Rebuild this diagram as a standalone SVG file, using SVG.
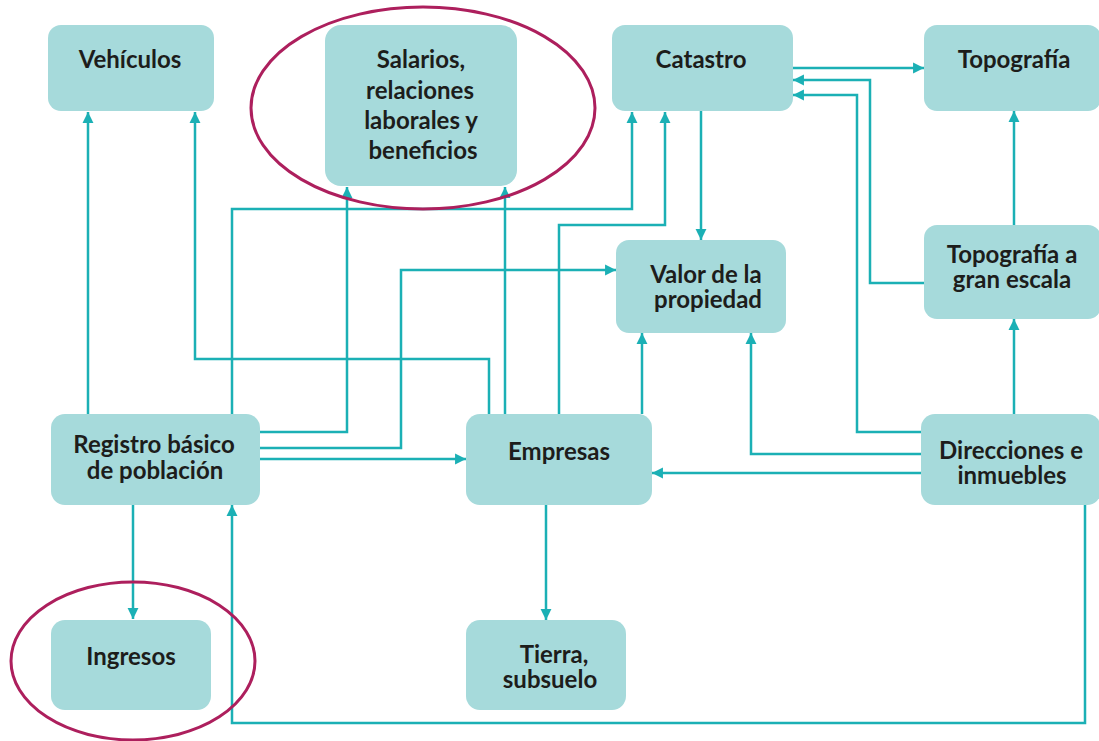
<svg xmlns="http://www.w3.org/2000/svg" width="1099" height="741" viewBox="0 0 1099 741">
<defs>
<style>
.box{fill:#a6dadb;}
.t{font-family:Lato,"Liberation Sans",sans-serif;font-weight:bold;font-size:24px;fill:#1d1d1b;text-anchor:middle;}
.c{fill:none;stroke:#1bb0b5;stroke-width:2.5;marker-end:url(#ah);}
.ring{fill:none;stroke:#ad1f5d;stroke-width:3;}
</style>
<marker id="ah" markerUnits="userSpaceOnUse" markerWidth="12" markerHeight="12" refX="10" refY="5.5" orient="auto" viewBox="0 0 11 11">
<path d="M0,0.5 L10,5.5 L0,10.5 z" fill="#1bb0b5"/>
</marker>
</defs>
<rect width="1099" height="741" fill="#ffffff"/>

<g id="connectors">
<path class="c" d="M88 414 V112"/>
<path class="c" d="M489 414 V359 H195 V112"/>
<path class="c" d="M232 414 V209 H632 V112"/>
<path class="c" d="M260 432 H347 V187"/>
<path class="c" d="M505 414 V187"/>
<path class="c" d="M260 448 H401 V270 H616"/>
<path class="c" d="M260 459 H466"/>
<path class="c" d="M133 505 V619"/>
<path class="c" d="M559 414 V225 H665 V112"/>
<path class="c" d="M701 111 V240"/>
<path class="c" d="M793 68 H924"/>
<path class="c" d="M924 283 H870 V80 H793"/>
<path class="c" d="M921 432 H857 V95 H793"/>
<path class="c" d="M1014 225 V111"/>
<path class="c" d="M1014 414 V319"/>
<path class="c" d="M921 454 H751 V333"/>
<path class="c" d="M921 473 H652"/>
<path class="c" d="M642 414 V333"/>
<path class="c" d="M546 505 V620"/>
<path class="c" d="M1085 505 V723 H232 V505"/>
</g>

<g id="vehiculos">
<rect class="box" x="48" y="25" width="166" height="86" rx="13"/>
<text class="t" x="130" y="68">Vehículos</text>
</g>
<g id="salarios">
<rect class="box" x="325" y="25" width="192" height="161" rx="16"/>
<text class="t" x="421" y="68">Salarios,</text>
<text class="t" x="420" y="99">relaciones</text>
<text class="t" x="421" y="129">laborales y</text>
<text class="t" x="423" y="159">beneficios</text>
</g>
<g id="catastro">
<rect class="box" x="612" y="25" width="181" height="86" rx="13"/>
<text class="t" x="701" y="68">Catastro</text>
</g>
<g id="topografia">
<rect class="box" x="924" y="25" width="177" height="86" rx="13"/>
<text class="t" x="1014" y="68">Topografía</text>
</g>
<g id="valor">
<rect class="box" x="616" y="240" width="170" height="93" rx="13"/>
<text class="t" x="706" y="283">Valor de la</text>
<text class="t" x="708" y="308">propiedad</text>
</g>
<g id="topografia-gran-escala">
<rect class="box" x="924" y="225" width="177" height="94" rx="13"/>
<text class="t" x="1012" y="263">Topografía a</text>
<text class="t" x="1012" y="288">gran escala</text>
</g>
<g id="registro">
<rect class="box" x="51" y="414" width="209" height="91" rx="14"/>
<text class="t" x="154" y="453">Registro básico</text>
<text class="t" x="155" y="479">de población</text>
</g>
<g id="empresas">
<rect class="box" x="466" y="414" width="186" height="91" rx="14"/>
<text class="t" x="559" y="460">Empresas</text>
</g>
<g id="direcciones">
<rect class="box" x="921" y="414" width="180" height="91" rx="14"/>
<text class="t" x="1011" y="459">Direcciones e</text>
<text class="t" x="1012" y="484">inmuebles</text>
</g>
<g id="ingresos">
<rect class="box" x="51" y="620" width="160" height="90" rx="14"/>
<text class="t" x="131" y="665">Ingresos</text>
</g>
<g id="tierra">
<rect class="box" x="466" y="620" width="160" height="90" rx="14"/>
<text class="t" x="554" y="663">Tierra,</text>
<text class="t" x="550" y="688">subsuelo</text>
</g>

<g id="highlights">
<ellipse class="ring" cx="423" cy="108" rx="172" ry="101"/>
<ellipse class="ring" cx="133" cy="661" rx="122" ry="79"/>
</g>
</svg>
